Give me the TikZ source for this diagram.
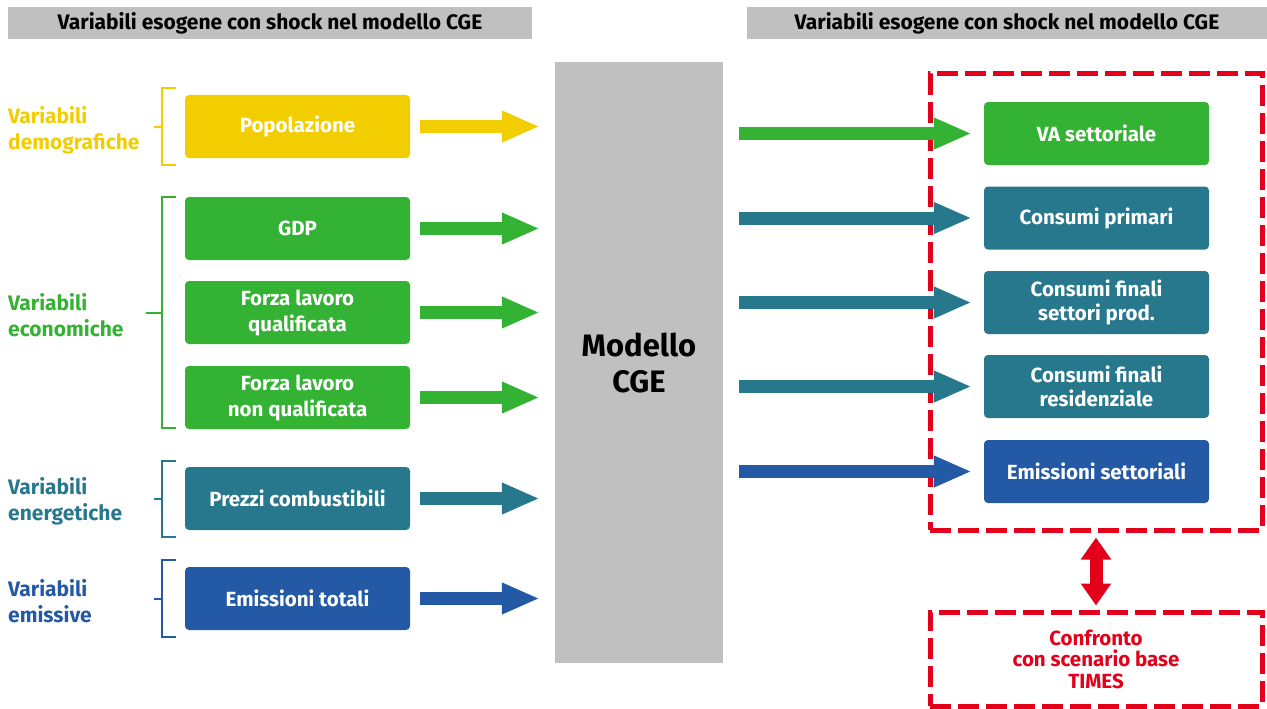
\documentclass[tikz,border=0pt]{standalone}
\usepackage{fontspec}
\setmainfont{Fira Sans}
\usetikzlibrary{arrows.meta}
\definecolor{cyel}{HTML}{F2CD00}
\definecolor{cgrn}{HTML}{34B233}
\definecolor{cteal}{HTML}{28788D}
\definecolor{cblue}{HTML}{2459A6}
\definecolor{cred}{HTML}{E2001A}
\definecolor{cgray}{HTML}{C0C0C0}
\begin{document}
\begin{tikzpicture}[x=1pt,y=-1pt,
  header/.style={fill=cgray, minimum width=524pt, minimum height=32pt, inner sep=0pt,
    font=\bfseries\fontsize{21}{24}\selectfont, text=black},
  vbox/.style={rounded corners=4pt, minimum width=225pt, minimum height=63pt, inner sep=0pt,
    text=white, align=center, font=\bfseries\fontsize{20.5}{26}\selectfont},
  rbox/.style={vbox, font=\bfseries\fontsize{20.5}{24}\selectfont},
  glabel/.style={anchor=west, align=left, inner sep=0pt, font=\bfseries\fontsize{21}{26}\selectfont},
  bracket/.style={line width=2pt},
  fat/.style={line width=13pt, -{Triangle[length=38pt,width=29pt]}},
  redframe/.style={draw=cred, line width=5pt, dash pattern=on 21pt off 7pt},
]
\useasboundingbox (0,0) rectangle (1267,709);

% headers
\node[header] (hl) at (270,23) {Variabili esogene con shock nel modello CGE};
\node[header, minimum width=520pt] (hr) at (1007,23) {Variabili esogene con shock nel modello CGE};

% red frames (drawn first: arrows pass over them)
\node[redframe, minimum width=332pt, minimum height=456pt, inner sep=0pt] (frame) at (1096,302) {};
\node[redframe, minimum width=332pt, minimum height=94pt, inner sep=0pt, align=center,
  text=cred, font=\bfseries\fontsize{20.5}{21.5}\selectfont] (cmp) at (1096,659) {Confronto\\con scenario base\\TIMES};

% model
\node[fill=cgray, minimum width=168pt, minimum height=601pt, inner sep=0pt, align=center,
  font=\bfseries\fontsize{31}{36}\selectfont] (model) at (639,362.5) {Modello\\CGE};

% left boxes
\node[vbox, fill=cyel] (pop) at (297.5,126.5) {Popolazione};
\node[vbox, fill=cgrn] (gdp) at (297.5,228.5) {GDP};
\node[vbox, fill=cgrn] (flq) at (297.5,312.5) {Forza lavoro\\qualificata};
\node[vbox, fill=cgrn] (flnq) at (297.5,397.5) {Forza lavoro\\non qualificata};
\node[vbox, fill=cteal] (prz) at (297.5,498.5) {Prezzi combustibili};
\node[vbox, fill=cblue] (emt) at (297.5,598.5) {Emissioni totali};

% group labels
\node[glabel, text=cyel] (ldem) at (8,130) {Variabili\\demografiche};
\node[glabel, text=cgrn] (leco) at (8,315) {Variabili\\economiche};
\node[glabel, text=cteal] (lene) at (8,501.5) {Variabili\\energetiche};
\node[glabel, text=cblue] (lemi) at (8,601) {Variabili\\emissive};

% brackets
\draw[bracket, cyel] (176,88) -- (162,88) -- (162,165) -- (176,165) (162,126.5) -- (154,126.5);
\draw[bracket, cgrn] (176,197) -- (162,197) -- (162,428) -- (176,428) (162,312.5) -- (146,312.5);
\draw[bracket, cteal] (176,461) -- (162,461) -- (162,537) -- (176,537) (162,499) -- (154,499);
\draw[bracket, cblue] (176,560) -- (162,560) -- (162,637) -- (176,637) (162,598.5) -- (154,598.5);

% left arrows
\foreach \b/\c in {pop/cyel, gdp/cgrn, flq/cgrn, flnq/cgrn, prz/cteal, emt/cblue}
  \draw[fat, \c, shorten <=10pt, shorten >=15pt] (\b.east) -- (\b.east -| model.west);

% right boxes
\node[rbox, fill=cgrn] (va) at (1096.5,133.5) {VA settoriale};
\node[rbox, fill=cteal] (cp) at (1096.5,218) {Consumi primari};
\node[rbox, fill=cteal] (cfs) at (1096.5,302.5) {Consumi finali\\settori prod.};
\node[rbox, fill=cteal] (cfr) at (1096.5,386.5) {Consumi finali\\residenziale};
\node[rbox, fill=cblue] (ems) at (1096.5,471.5) {Emissioni settoriali};

% right arrows
\foreach \b/\c in {va/cgrn, cp/cteal, cfs/cteal, cfr/cteal, ems/cblue}
  \draw[fat, \c, shorten <=16pt, shorten >=12pt] (\b.west -| model.east) -- (\b.west);

% double arrow
\draw[line width=13pt, cred, {Triangle[length=22pt,width=29pt]}-{Triangle[length=22pt,width=29pt]},
  shorten <=5pt, shorten >=4pt] (frame.south) -- (cmp.north);
\end{tikzpicture}
\end{document}
